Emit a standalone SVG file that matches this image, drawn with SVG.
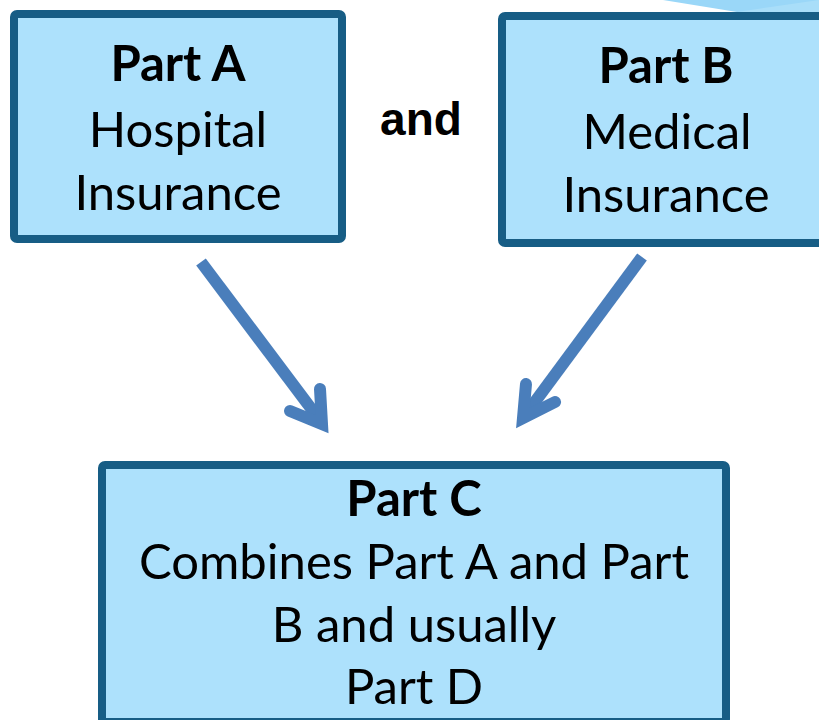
<svg xmlns="http://www.w3.org/2000/svg" width="819" height="720" viewBox="0 0 819 720">
<style>
.box{fill:#ade1fc;stroke:#175d85;stroke-width:8}
.t{font-family:Lato,"Open Sans",sans-serif;font-size:49px;fill:#000;text-anchor:middle}
.b{font-weight:bold}
.arr{fill:none;stroke:#4a7ebb;stroke-width:12}
</style>
<rect width="819" height="720" fill="#fff"/>
<polygon points="663,0 819,0 819,12 737,12" fill="#9ad7f8"/>
<polygon points="737,12 819,0 819,12" fill="#a9def9"/>
<g id="partA">
<rect class="box" x="14" y="14" width="328" height="225" rx="3"/>
<text class="t b" x="178" y="81">Part A</text>
<text class="t" x="178" y="147">Hospital</text>
<text class="t" x="178" y="210">Insurance</text>
</g>
<g id="partB">
<rect class="box" x="502" y="16" width="340" height="227" rx="3"/>
<text class="t b" x="666" y="83">Part B</text>
<text class="t" x="667" y="149">Medical</text>
<text class="t" x="666" y="212">Insurance</text>
</g>
<g id="and">
<text x="421" y="135" font-family="'Liberation Sans',Arial,sans-serif" font-size="46" font-weight="bold" text-anchor="middle">and</text>
</g>
<g id="partC">
<rect class="box" x="102" y="465" width="624" height="257" rx="3"/>
<text class="t b" x="414" y="516">Part C</text>
<text class="t" x="414" y="579">Combines Part A and Part</text>
<text class="t" x="414" y="642">B and usually</text>
<text class="t" x="414" y="704">Part D</text>
</g>
<g id="connectors">
<path class="arr" d="M201,262 L322,423"/>
<polyline class="arr" points="320,389 322,424 290,411" stroke-linecap="round" stroke-linejoin="miter"/>
<path class="arr" d="M642,257 L523,418"/>
<polyline class="arr" points="526,384 523,418 555,402" stroke-linecap="round" stroke-linejoin="miter"/>
</g>
</svg>
